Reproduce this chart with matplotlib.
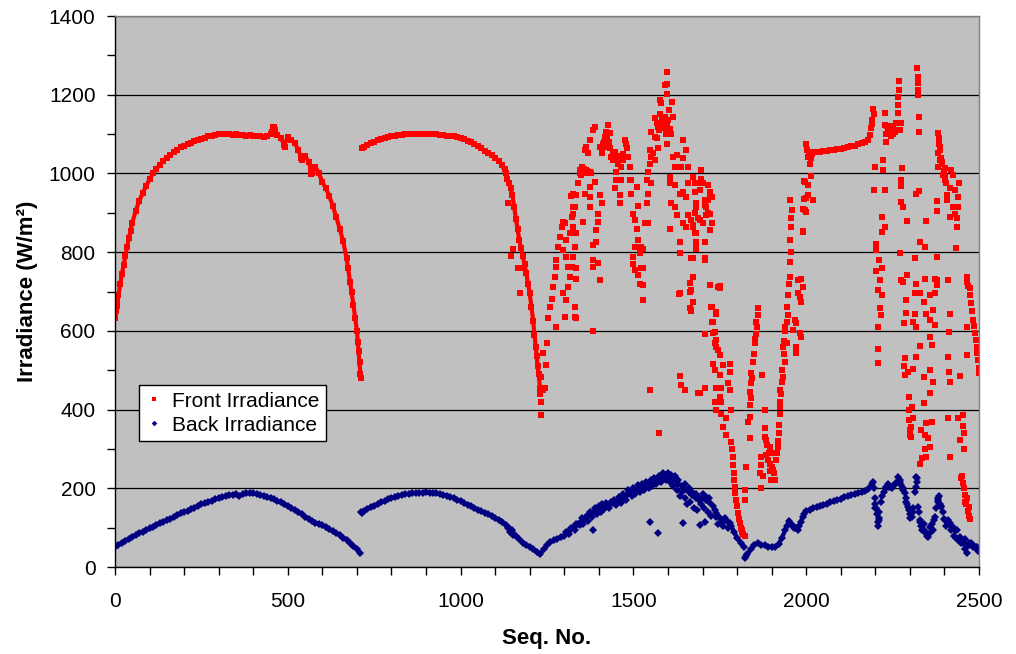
import numpy as np
import matplotlib
matplotlib.use("Agg")
import matplotlib.pyplot as plt
from matplotlib.ticker import MultipleLocator

plt.rcParams['font.family'] = ['Liberation Sans', 'DejaVu Sans']

# front irradiance, one reading every 10 seq. no. on the clear-sky stretches
front_day1 = [632, 690, 745, 790, 835, 875, 905, 930, 950, 968,
              985, 1000, 1012, 1022, 1032, 1040, 1047, 1054, 1060, 1066,
              1070, 1074, 1078, 1082, 1086, 1088, 1091, 1094, 1096, 1098,
              1099, 1100, 1099, 1100, 1098, 1099, 1097, 1098, 1096, 1097,
              1095, 1096, 1094, 1093, 1095, 1100, 1118, 1098, 1090, 1072,
              1093, 1085, 1078, 1060, 1038, 1045, 1030, 1000, 1017, 1000,
              978, 962, 943, 918, 890, 860, 828, 785, 725, 665,
              600, 490]
front_day2 = [1068, 1073, 1077, 1081, 1085, 1088, 1090, 1093, 1095, 1096,
              1098, 1098, 1099, 1100, 1100, 1101, 1101, 1100, 1101, 1100,
              1099, 1099, 1098, 1097, 1096, 1095, 1094, 1092, 1090, 1087,
              1083, 1079, 1074, 1070, 1064, 1058, 1052, 1046, 1040, 1032,
              1022, 1000, 975, 945, 885, 830, 790, 746, 695, 625,
              535, 455]
front_band = [1054, 1055, 1057, 1058, 1059, 1060, 1062, 1063, 1065, 1067,
              1069, 1071, 1074, 1077, 1080, 1086]

# remaining front readings (seq. no., W/m2): steep edges and cloudy periods
front_pts = np.array([
    [3, 650], [5, 662], [7, 675], [15, 718], [25, 768], [35, 812], [45, 855],
    [455, 1105], [458, 1119], [462, 1110], [488, 1078], [492, 1068], [537, 1040],
    [542, 1035], [566, 1005], [568, 998], [675, 760], [685, 700], [695, 632],
    [703, 572], [706, 548], [708, 522], [712, 479], [714, 1064],
    [1128, 1012], [1135, 985], [1145, 962], [1137, 924], [1147, 790], [1152, 809],
    [1155, 915], [1165, 860], [1166, 759], [1171, 695], [1175, 810], [1180, 759],
    [1185, 770], [1195, 720], [1205, 660], [1213, 590], [1217, 560], [1223, 510],
    [1226, 490], [1231, 440], [1232, 420], [1234, 386], [1238, 543], [1248, 513],
    [1238, 450], [1234, 483], [1245, 454], [1251, 568],
    [1250, 570], [1253, 632], [1258, 661], [1263, 682], [1268, 712], [1272, 738],
    [1277, 763], [1282, 814], [1287, 839], [1292, 865], [1297, 877], [1301, 873],
    [1277, 610], [1301, 636], [1306, 678], [1311, 712], [1316, 738], [1321, 763],
    [1325, 788], [1330, 814], [1335, 848], [1325, 865], [1321, 890], [1325, 915],
    [1325, 949], [1333, 632], [1330, 661], [1335, 733], [1335, 759], [1277, 780],
    [1296, 805], [1306, 831], [1316, 848], [1325, 898], [1330, 915], [1335, 945],
    [1320, 943], [1306, 788], [1311, 763], [1296, 695], [1306, 678], [1330, 636],
    [1340, 975], [1345, 1009], [1350, 1017], [1354, 1009], [1364, 1009], [1374, 1004],
    [1359, 1059], [1364, 1068], [1374, 1085], [1383, 1110], [1388, 1119], [1369, 1051],
    [1359, 949], [1374, 966], [1374, 941], [1374, 915], [1388, 979], [1403, 945],
    [1408, 924], [1398, 898], [1354, 877], [1398, 877], [1393, 856], [1393, 826],
    [1383, 818], [1383, 780], [1383, 763], [1398, 773], [1403, 729], [1383, 600],
    [1345, 1000], [1348, 995], [1357, 1012], [1362, 1000], [1367, 1005], [1378, 1000],
    [1403, 1068], [1408, 1051], [1412, 1076], [1417, 1093], [1422, 1106], [1427, 1123],
    [1432, 1102], [1422, 1068], [1432, 1064], [1436, 1042], [1441, 1034], [1446, 1055],
    [1451, 1034], [1456, 1025], [1461, 1038], [1470, 1034], [1475, 1085], [1480, 1064],
    [1485, 1042], [1490, 1017], [1465, 1017], [1451, 1004], [1451, 983], [1465, 983],
    [1461, 945], [1461, 924], [1446, 962], [1415, 1080], [1425, 1090], [1430, 1080],
    [1440, 1050], [1455, 1045], [1470, 1050], [1478, 1075],
    [1490, 983], [1494, 949], [1499, 898], [1504, 881], [1509, 860], [1514, 831],
    [1519, 797], [1504, 814], [1499, 788], [1499, 771], [1504, 754], [1514, 742],
    [1519, 718], [1523, 759], [1528, 809], [1528, 678], [1512, 918], [1509, 966],
    [1494, 983], [1528, 761], [1528, 717], [1523, 813],
    [1533, 873], [1543, 873], [1538, 924], [1543, 949], [1538, 983], [1543, 1004],
    [1547, 1025], [1552, 1042], [1557, 1051], [1547, 1059], [1552, 1106], [1562, 1093],
    [1567, 1127], [1562, 1140], [1571, 1119], [1576, 1152], [1581, 1178], [1578, 1186],
    [1596, 1203], [1596, 1227], [1596, 1257], [1601, 1136], [1605, 1114], [1591, 1144],
    [1586, 1131], [1615, 1144], [1612, 1182], [1596, 1076], [1571, 1064], [1562, 1034],
    [1552, 975], [1590, 1225], [1583, 1140], [1588, 1115], [1593, 1100], [1598, 1120],
    [1603, 1160], [1608, 1100], [1568, 1090], [1574, 1110],
    [1605, 992], [1605, 975], [1620, 970], [1610, 924], [1620, 915], [1625, 894],
    [1605, 860], [1615, 1042], [1625, 1047], [1620, 1017], [1639, 1017], [1644, 1038],
    [1644, 1085], [1653, 1059], [1658, 1017], [1634, 949], [1644, 953], [1653, 941],
    [1658, 975], [1678, 975], [1673, 992], [1678, 953], [1692, 958], [1702, 975],
    [1697, 1008], [1697, 987], [1706, 932], [1716, 932], [1711, 915], [1721, 953],
    [1726, 941], [1682, 915], [1687, 886], [1668, 881], [1673, 865], [1678, 848],
    [1682, 826], [1658, 894], [1644, 873], [1653, 865], [1634, 826], [1634, 797],
    [1668, 784], [1682, 809], [1706, 826], [1706, 780], [1702, 873], [1721, 856],
    [1721, 898], [1711, 894], [1673, 738], [1663, 721], [1663, 699], [1634, 695],
    [1673, 674], [1663, 657], [1668, 653], [1729, 623], [1735, 598], [1745, 712],
    [1740, 577], [1740, 560], [1677, 975], [1697, 975], [1716, 971], [1721, 945],
    [1682, 924], [1706, 920], [1716, 899], [1677, 899], [1692, 882], [1726, 873],
    [1673, 869], [1682, 848], [1706, 827], [1682, 810], [1706, 784], [1671, 784],
    [1672, 738], [1668, 704], [1672, 674],
    [1547, 450], [1574, 340], [1634, 485], [1639, 463], [1648, 450], [1692, 441],
    [1632, 693], [1668, 651], [1750, 713], [1725, 660], [1740, 647], [1730, 594],
    [1735, 568], [1721, 716], [1750, 710], [1726, 661], [1740, 644], [1726, 623],
    [1706, 591], [1745, 551], [1750, 539], [1730, 517], [1759, 513], [1735, 500],
    [1779, 517], [1779, 496], [1750, 488], [1774, 467], [1740, 454], [1754, 454],
    [1750, 433], [1706, 454], [1687, 441], [1735, 420], [1754, 420], [1779, 450],
    [1783, 399], [1740, 399], [1754, 390], [1769, 378], [1759, 357], [1769, 335],
    [1783, 318], [1785, 300], [1787, 280], [1788, 260], [1790, 238], [1791, 220],
    [1793, 204], [1795, 188], [1798, 170], [1800, 155], [1803, 136], [1806, 122],
    [1808, 111], [1811, 100], [1813, 94], [1815, 88], [1818, 84], [1822, 80],
    [1822, 170], [1822, 195], [1827, 255], [1836, 327], [1832, 369], [1836, 412],
    [1836, 445], [1841, 467], [1841, 492], [1846, 522], [1851, 568], [1856, 593],
    [1856, 623], [1861, 657], [1838, 380], [1840, 430], [1843, 480], [1848, 540],
    [1853, 580], [1858, 610], [1860, 640], [1873, 488], [1880, 399], [1880, 352],
    [1885, 322], [1894, 305], [1870, 280], [1865, 238], [1870, 200], [1890, 272],
    [1899, 289], [1904, 246], [1909, 221], [1899, 221], [1882, 330], [1887, 310],
    [1892, 290], [1896, 262], [1901, 255], [1906, 240], [1885, 285], [1894, 245],
    [1875, 230], [1868, 260], [1918, 305], [1914, 272], [1921, 340], [1923, 390],
    [1925, 407], [1925, 450], [1933, 483], [1938, 522], [1933, 560], [1943, 568],
    [1938, 610], [1944, 623], [1943, 661], [1916, 290], [1919, 320], [1922, 360],
    [1924, 420], [1927, 440], [1929, 470], [1931, 500], [1935, 540], [1937, 575],
    [1940, 600], [1946, 640], [1948, 690], [1950, 720], [1952, 738], [1952, 776],
    [1957, 801], [1952, 831], [1957, 864], [1957, 886], [1960, 907], [1954, 932],
    [1962, 602], [1971, 619], [1967, 627], [1970, 560], [1970, 543], [1976, 729],
    [1986, 733], [1991, 712], [1981, 687], [1986, 674], [1976, 695], [1981, 594],
    [1986, 585], [1991, 852], [1996, 907], [2000, 937], [1996, 979], [2005, 970],
    [2020, 932], [2005, 945],
    [2000, 1076], [2005, 1041], [2010, 1024], [1995, 980], [2005, 971], [1995, 936],
    [1991, 910], [2000, 901], [1991, 853], [2020, 1054], [2015, 993], [2003, 1060],
    [2008, 1050], [2013, 1040], [2018, 1050], [2025, 1055],
    [2184, 1098], [2188, 1115], [2191, 1136], [2193, 1165], [2195, 1150], [2190, 1125],
    [2198, 1017], [2196, 958], [2222, 1034], [2222, 1009], [2227, 958], [2218, 890],
    [2227, 865], [2218, 852], [2201, 822], [2203, 805], [2211, 780], [2203, 753],
    [2218, 759], [2213, 729], [2208, 705], [2218, 691], [2213, 657], [2215, 640],
    [2208, 610], [2208, 555], [2208, 519],
    [2227, 1153], [2227, 1123], [2237, 1110], [2246, 1114], [2256, 1110], [2261, 1127],
    [2275, 1127], [2271, 1110], [2232, 1081], [2266, 1153], [2266, 1174], [2266, 1195],
    [2269, 1213], [2269, 1235], [2278, 1013], [2275, 983], [2275, 968], [2275, 928],
    [2280, 915], [2292, 880], [2271, 799], [2273, 729], [2280, 725], [2292, 742],
    [2288, 678], [2288, 646], [2282, 619], [2285, 530], [2282, 511], [2285, 488],
    [2295, 496], [2309, 502], [2296, 431], [2297, 399], [2298, 373], [2302, 356],
    [2304, 331], [2299, 348], [2240, 1105], [2250, 1100], [2244, 1095], [2252, 1120],
    [2258, 1105], [2235, 1120], [2230, 1100],
    [2321, 1269], [2322, 1246], [2322, 1229], [2324, 1213], [2324, 1199], [2326, 1144],
    [2327, 1106], [2319, 949], [2327, 955], [2314, 784], [2330, 826], [2343, 814],
    [2348, 880], [2317, 719], [2314, 695], [2328, 695], [2343, 733], [2357, 691],
    [2372, 695], [2372, 733], [2377, 716], [2342, 674], [2314, 644], [2309, 623],
    [2317, 610], [2348, 644], [2367, 653], [2357, 627], [2372, 615], [2357, 585],
    [2365, 564], [2330, 561], [2317, 534], [2340, 484], [2357, 500], [2367, 471],
    [2357, 441], [2340, 416], [2307, 406], [2309, 378], [2299, 335], [2333, 348],
    [2348, 365], [2343, 335], [2353, 327], [2357, 306], [2343, 301], [2348, 280],
    [2336, 276], [2330, 263], [2365, 369], [2377, 788], [2346, 879], [2377, 729],
    [2382, 1102], [2384, 1085], [2386, 1068], [2382, 1051], [2388, 1034], [2394, 1025],
    [2401, 1013], [2396, 996], [2401, 983], [2382, 1017], [2420, 1008], [2425, 996],
    [2415, 962], [2430, 958], [2442, 977], [2440, 941], [2408, 945], [2406, 932],
    [2425, 915], [2440, 915], [2430, 898], [2437, 886], [2415, 890], [2435, 865],
    [2433, 811], [2379, 931], [2379, 905], [2410, 729], [2415, 643], [2413, 598],
    [2410, 534], [2413, 496], [2417, 471], [2444, 485], [2438, 378], [2417, 280],
    [2410, 378], [2383, 1090], [2385, 1075], [2387, 1060], [2390, 1040], [2392, 1030],
    [2398, 1005], [2403, 990], [2405, 975],
    [2454, 386], [2454, 358], [2456, 340], [2444, 323], [2456, 299], [2464, 738],
    [2466, 725], [2468, 715], [2473, 708], [2475, 690], [2478, 670], [2480, 650],
    [2483, 628], [2485, 612], [2488, 594], [2490, 578], [2493, 560], [2495, 545],
    [2497, 526], [2499, 492], [2500, 505], [2466, 611], [2466, 538], [2447, 227],
    [2454, 213], [2459, 183], [2463, 161], [2468, 143], [2473, 121], [2459, 165],
    [2471, 130], [2456, 200], [2452, 230], [2470, 152], [2466, 175],
])

# back irradiance, one reading every 10 seq. no.
back_day1 = [50, 56, 62, 67, 72, 77, 81, 86, 90, 94,
             98, 102, 107, 111, 115, 119, 123, 127, 131, 136,
             140, 143, 147, 151, 155, 159, 162, 166, 169, 172,
             175, 177, 180, 182, 184, 185, 180, 186, 187, 187,
             187, 186, 184, 181, 178, 175, 172, 168, 164, 159,
             154, 150, 145, 140, 134, 128, 123, 118, 113, 110,
             106, 101, 96, 91, 86, 81, 75, 69, 62, 54,
             45, 35]
back_day2 = [143, 147, 152, 156, 160, 164, 168, 172, 175, 178,
             181, 183, 185, 186, 187, 188, 189, 189, 190, 189,
             188, 187, 186, 184, 181, 178, 175, 171, 167, 163,
             158, 154, 150, 146, 142, 138, 134, 130, 125, 120,
             115, 108, 98, 88, 78, 70, 62, 56, 52, 45,
             39, 33, 45, 55, 63, 68, 72, 76, 80, 88,
             96, 104, 110, 117, 125, 133, 138, 143, 148, 152,
             155, 158, 162, 166, 170, 176, 182, 188, 192, 196,
             202, 205, 208, 212, 218, 222, 228, 234, 232, 228,
             220, 212, 205, 198, 190, 182, 176, 176, 175, 170,
             165, 155, 138, 125, 120, 118, 112, 90, 75, 62,
             50]
back_day3 = [32, 45, 57, 62, 55, 55, 52, 52, 50, 58,
             75, 95, 118, 108, 100, 105, 128, 142, 146, 150,
             153, 156, 158, 161, 164, 167, 170, 173, 177, 180,
             183, 186, 188, 190, 193, 198, 212, 150, 125, 180,
             200, 204, 205, 213, 220, 200, 165, 135, 150, 225,
             115, 95, 80, 100, 120, 170, 155, 122, 112, 105,
             95, 72, 65, 45, 55, 58, 50, 40]

back_pts = np.array([
    [712, 141], [714, 138], [1138, 100], [1143, 88], [1148, 95], [1152, 82],
    [1822, 22], [1826, 28],
    [1305, 90], [1315, 85], [1320, 100], [1330, 95], [1335, 110], [1345, 108],
    [1350, 125], [1355, 110], [1365, 130], [1370, 118], [1375, 140], [1380, 128],
    [1383, 94], [1388, 150], [1395, 135], [1400, 155], [1405, 140], [1410, 160],
    [1415, 148], [1420, 162], [1430, 150], [1435, 165], [1445, 170], [1450, 158],
    [1458, 178], [1465, 162], [1470, 185], [1478, 170], [1485, 195], [1495, 180],
    [1500, 200], [1505, 185], [1512, 208], [1518, 190], [1525, 210], [1530, 195],
    [1535, 215], [1545, 200], [1547, 115], [1550, 220], [1555, 205], [1560, 225],
    [1565, 210], [1571, 86], [1575, 230], [1580, 215], [1585, 240], [1590, 225],
    [1595, 220], [1600, 240], [1605, 215], [1610, 235], [1615, 205], [1620, 230],
    [1625, 195], [1630, 220], [1635, 180], [1640, 190], [1643, 111], [1648, 175],
    [1650, 210], [1655, 160], [1660, 200], [1665, 165], [1670, 190], [1675, 150],
    [1680, 185], [1685, 145], [1690, 170], [1692, 107], [1695, 160], [1700, 185],
    [1705, 150], [1706, 115], [1710, 178], [1715, 140], [1720, 175], [1725, 130],
    [1735, 145], [1740, 128], [1745, 110], [1755, 112], [1760, 105], [1765, 125],
    [1775, 100], [1783, 105],
    [1945, 105], [1955, 110], [1965, 98], [1975, 95], [1985, 115], [1995, 135],
    [2193, 217], [2195, 200], [2198, 175], [2200, 160], [2203, 150], [2205, 135],
    [2207, 115], [2208, 105], [2210, 140], [2212, 120], [2215, 165], [2225, 190],
    [2232, 204], [2236, 210], [2242, 204], [2248, 200], [2255, 208], [2261, 213],
    [2266, 229], [2270, 215], [2275, 208], [2280, 195], [2285, 187], [2288, 175],
    [2292, 160], [2295, 153], [2298, 145], [2300, 125], [2305, 128], [2310, 140],
    [2315, 190], [2319, 229], [2319, 204], [2321, 215], [2324, 153], [2326, 140],
    [2328, 119], [2332, 105], [2335, 95], [2338, 94], [2342, 110], [2345, 90],
    [2350, 85], [2353, 77], [2357, 102], [2360, 88], [2365, 110], [2368, 95],
    [2372, 128], [2376, 150], [2380, 165], [2382, 175], [2385, 180], [2388, 160],
    [2391, 153], [2395, 140], [2401, 119], [2405, 105], [2410, 120], [2415, 111],
    [2420, 95], [2425, 102], [2428, 80], [2432, 75], [2436, 95], [2439, 69],
    [2444, 77], [2448, 60], [2454, 60], [2458, 70], [2464, 35], [2468, 55],
    [2472, 62], [2478, 60], [2484, 50], [2490, 48], [2493, 52], [2497, 40],
])

# consecutive readings of one day, logged without a break
front_runs = [(np.arange(0, 720, 10), front_day1),
              (np.arange(720, 1240, 10), front_day2),
              (np.arange(2030, 2190, 10), front_band)]
back_runs = [(np.arange(0, 720, 10), back_day1),
             (np.arange(720, 1830, 10), back_day2),
             (np.arange(1830, 2510, 10), back_day3)]
# from here on the back sensor readings are scattered by clouds
BACK_CLOUDY_FROM = 2190

front_x = np.concatenate([r[0] for r in front_runs] + [front_pts[:, 0]])
front_y = np.concatenate([r[1] for r in front_runs] + [front_pts[:, 1]])
back_x = np.concatenate([r[0] for r in back_runs] + [back_pts[:, 0]])
back_y = np.concatenate([r[1] for r in back_runs] + [back_pts[:, 1]])

RED = '#FF0000'
NAVY = '#000080'

fig = plt.figure(figsize=(10.16, 6.54), dpi=100)
ax = fig.add_axes([0.1132, 0.133, 0.8504, 0.8425])
ax.set_facecolor('#C0C0C0')

# densely logged runs read as a solid band of markers
for xs, ys in front_runs:
    ax.plot(xs, ys, color=RED, lw=3.0, solid_joinstyle='round')
ax.plot(front_x, front_y, linestyle='none', marker='s', ms=3.9, mew=0,
        color=RED, label='Front Irradiance')
for xs, ys in back_runs:
    keep = xs <= BACK_CLOUDY_FROM
    ax.plot(xs[keep], np.asarray(ys)[keep], color=NAVY, lw=3.0,
            solid_joinstyle='round')
ax.plot(back_x, back_y, linestyle='none', marker='D', ms=3.8, mew=0,
        color=NAVY, label='Back Irradiance')

ax.set_xlim(0, 2500)
ax.set_ylim(0, 1400)
ax.xaxis.set_major_locator(MultipleLocator(500))
ax.xaxis.set_minor_locator(MultipleLocator(100))
ax.yaxis.set_major_locator(MultipleLocator(200))
ax.yaxis.set_minor_locator(MultipleLocator(100))
ax.tick_params(which='both', direction='out', length=6, width=1, color='black')
ax.tick_params(axis='x', labelsize=15, pad=12)
ax.tick_params(axis='y', labelsize=15, pad=8)

ax.yaxis.grid(True, which='major', color='black', lw=0.9)
ax.set_axisbelow(True)
for side in ('left', 'bottom'):
    ax.spines[side].set_color('black')
    ax.spines[side].set_linewidth(1)
for side in ('top', 'right'):
    ax.spines[side].set_color('#808080')
    ax.spines[side].set_linewidth(1)

ax.set_xlabel('Seq. No.', fontsize=16, fontweight='bold', labelpad=12)
ax.set_ylabel('Irradiance (W/m²)', fontsize=16, fontweight='bold', labelpad=8)

leg = ax.legend(loc='lower left', bbox_to_anchor=(0.0278, 0.2287),
                borderaxespad=0, fontsize=15, fancybox=False, framealpha=1,
                edgecolor='black', handlelength=0.8, handletextpad=0.5,
                borderpad=0.3, labelspacing=0.25, markerscale=0.75)
leg.get_frame().set_linewidth(1)

fig.savefig('out.png', dpi=100)
